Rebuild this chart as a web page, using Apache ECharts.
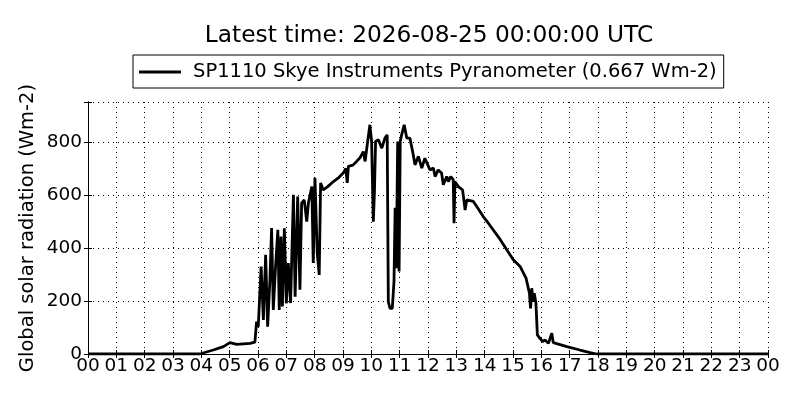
<!DOCTYPE html>
<html>
<head>
<meta charset="utf-8">
<script src="https://cdn.jsdelivr.net/npm/echarts@6/dist/echarts.min.js"></script>
<style>
  html, body { margin: 0; padding: 0; background: #fff; }
  #chart { width: 800px; height: 400px; }
</style>
</head>
<body>
<div id="chart"></div>
<script>
var titleText = 'Latest time: 2026-08-25 00:00:00 UTC';
var seriesName = 'SP1110 Skye Instruments Pyranometer (0.667 Wm-2)';
var yTicks = [0, 200, 400, 600, 800];

// hours since midnight
var hours = [0, 3.95, 4.42, 4.78, 5.01, 5.25, 5.72, 5.89, 5.95, 6.01, 6.11, 6.19, 6.27, 6.34, 6.42, 6.48,
    6.54, 6.62, 6.70, 6.75, 6.81, 6.86, 6.93, 7.00, 7.07, 7.15, 7.25, 7.31, 7.40, 7.48, 7.54,
    7.63, 7.66, 7.72, 7.78, 7.90, 7.95, 8.01, 8.09, 8.16, 8.21, 8.30, 8.45, 8.66, 8.85, 9.01, 9.10,
    9.15, 9.19, 9.35, 9.48, 9.60, 9.72, 9.78, 9.87, 9.95, 10.01, 10.07, 10.11, 10.15, 10.25, 10.37,
    10.48, 10.56, 10.60, 10.66, 10.74, 10.80, 10.84, 10.88, 10.93, 10.98, 11.02, 11.07, 11.16,
    11.25, 11.36, 11.48, 11.54, 11.66, 11.78, 11.89, 11.95, 12.07, 12.19, 12.25, 12.36, 12.48,
    12.54, 12.66, 12.72, 12.80, 12.89, 12.92, 12.95, 13.07, 13.22, 13.31, 13.37, 13.60, 13.72,
    13.95, 14.13, 14.54, 15.01, 15.25, 15.46, 15.58, 15.62, 15.66, 15.72, 15.75, 15.81, 15.86,
    15.95, 16.05, 16.13, 16.25, 16.37, 16.42, 16.90, 17.36, 17.72, 17.95, 24];
// global solar radiation, Wm-2
var radiation = [0, 0, 15, 28, 43, 36, 40, 45, 122, 103, 330, 128, 374, 103, 279, 475,
    166, 330, 468, 166, 443, 179, 474, 191, 343, 192, 600, 216, 594, 242, 569,
    581, 556, 499, 570, 631, 343, 664, 381, 298, 645, 619, 630, 650, 665, 682, 700,
    645, 707, 712, 726, 740, 763, 726, 801, 864, 801, 499, 612, 801, 808, 776,
    814, 826, 197, 172, 172, 273, 551, 323, 801, 311, 801, 826, 864,
    814, 814, 751, 713, 745, 701, 738, 732, 694, 701, 669, 694, 682,
    638, 669, 650, 669, 657, 493, 650, 631, 619, 543, 581, 575, 556,
    518, 493, 433, 355, 330, 286, 229, 172, 248, 197, 229, 191, 72,
    59, 47, 53, 40, 78, 43, 28, 15, 5, 0, 0];

var points = [];
for (var i = 0; i < hours.length; i++) {
    points.push([hours[i], radiation[i]]);
}

function hourLabel(v) {
    var h = Math.round(v) % 24;
    return h < 10 ? '0' + h : '' + h;
}

var font = 'DejaVu Sans';
var chart = echarts.init(document.getElementById('chart'), null, { renderer: 'canvas' });

var axisCommon = {
    axisLine: { show: true, lineStyle: { color: '#000', width: 1 } },
    axisTick: { show: true, inside: true, length: 4, lineStyle: { color: '#000' } },
    axisLabel: { color: '#000', fontFamily: font, fontSize: 18.5 }
};

var option = {
    backgroundColor: '#fff',
    animation: false,
    title: {
        text: titleText,
        left: 424,
        textAlign: 'center',
        top: 19,
        textStyle: { fontFamily: font, fontSize: 23.3, fontWeight: 'normal', color: '#000' }
    },
    legend: {
        data: [seriesName],
        top: 55,
        left: 133,
        padding: [7, 7, 6, 6],
        borderColor: '#000',
        borderWidth: 1,
        borderRadius: 0,
        itemWidth: 42,
        itemHeight: 3,
        itemGap: 10,
        icon: 'rect',
        textStyle: { fontFamily: font, fontSize: 19.5, color: '#000', padding: [0, 0, 0, 7] }
    },
    grid: { left: 88, right: 32, top: 102, bottom: 46 },
    xAxis: [
        Object.assign({}, axisCommon, {
            type: 'value', min: 0, max: 24, interval: 1,
            axisLabel: Object.assign({}, axisCommon.axisLabel, { formatter: hourLabel, margin: 3 }),
            splitLine: { show: true, lineStyle: { color: '#000', type: [1, 4], width: 1 } }
        }),
        Object.assign({}, axisCommon, {
            type: 'value', min: 0, max: 24, interval: 1, position: 'top',
            axisLabel: { show: false }, splitLine: { show: false }
        })
    ],
    yAxis: [
        Object.assign({}, axisCommon, {
            type: 'value', min: 0, max: 950, interval: 200,
            name: 'Global solar radiation (Wm-2)',
            nameLocation: 'middle',
            nameGap: 50,
            nameMoveOverlap: false,
            nameTextStyle: { fontFamily: font, fontSize: 19.5, color: '#000' },
            axisLabel: Object.assign({}, axisCommon.axisLabel, {
                margin: 6,
                formatter: function (v) { return yTicks.indexOf(v) >= 0 ? v : ''; }
            }),
            splitLine: { show: true, lineStyle: { color: '#000', type: [1, 4], width: 1 } }
        }),
        Object.assign({}, axisCommon, {
            type: 'value', min: 0, max: 950, interval: 200, position: 'right',
            axisLabel: { show: false }, splitLine: { show: false }
        })
    ],
    series: [
        {
            name: seriesName,
            type: 'line',
            data: points,
            showSymbol: false,
            symbol: 'none',
            lineStyle: { color: '#000', width: 2.8 },
            itemStyle: { color: '#000' }
        }
    ]
};

chart.setOption(option);
</script>
</body>
</html>
